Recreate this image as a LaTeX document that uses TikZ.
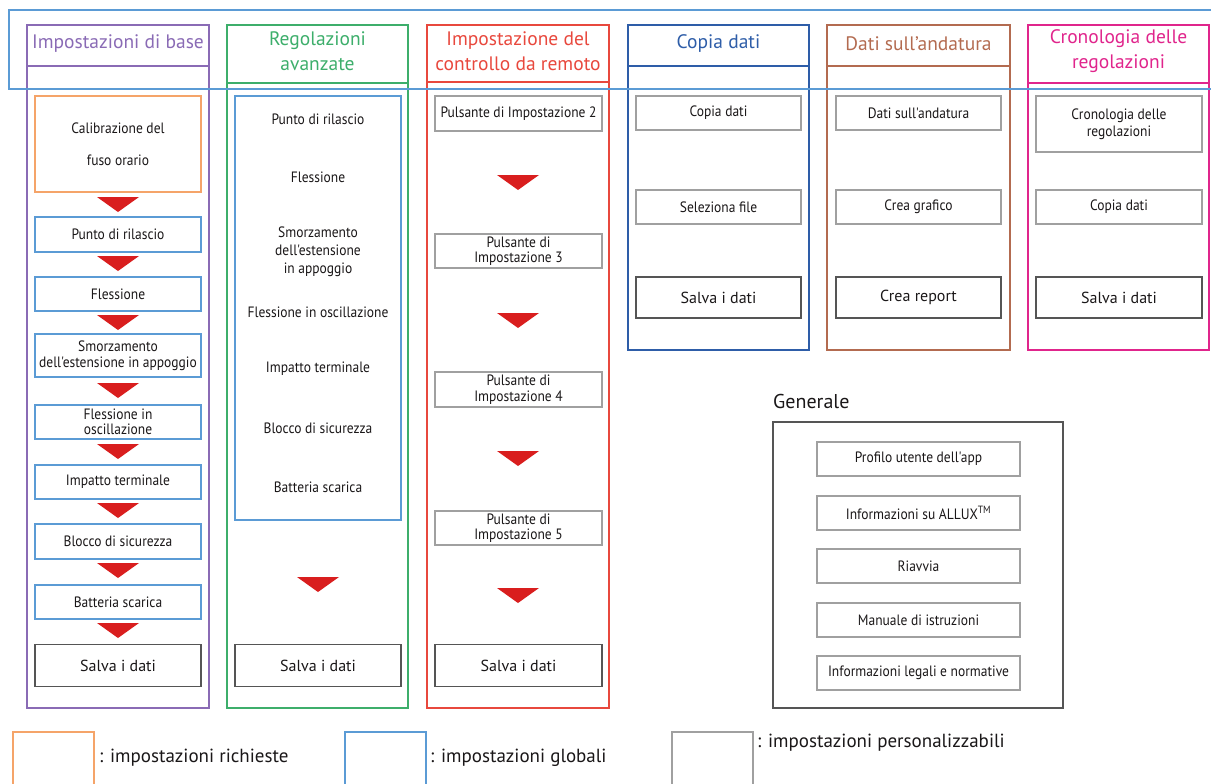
\documentclass[tikz,border=0pt]{standalone}
\usepackage{fontspec}
\setmainfont{PT Sans}
\newfontfamily\condf[FakeStretch=0.9]{PT Sans}
\definecolor{cpurple}{HTML}{8A6BB5}
\definecolor{cgreen}{HTML}{3DAE6B}
\definecolor{cred}{HTML}{E8483D}
\definecolor{cdblue}{HTML}{2E5DA8}
\definecolor{cbrown}{HTML}{B36B50}
\definecolor{cpink}{HTML}{E0258C}
\definecolor{corange}{HTML}{F5A469}
\definecolor{cblue}{HTML}{5B9BD5}
\definecolor{cgray}{HTML}{A0A0A0}
\definecolor{cdgray}{HTML}{555555}
\definecolor{arrowred}{HTML}{D91E1E}
\definecolor{ctext}{HTML}{1A1718}
\newcommand\redtri[2]{\fill[arrowred] (#1-21,#2) -- (#1+21,#2) -- (#1,#2+15) -- cycle;}
\begin{document}
\begin{tikzpicture}[x=1pt,y=-1pt,
  colframe/.style={line width=1.6pt},
  htext/.style={font=\fontsize{19.5}{24.5}\selectfont, align=center, inner sep=0},
  itext/.style={font=\condf\fontsize{15}{18}\selectfont, text=ctext, align=center, inner sep=0},
  bx/.style={inner sep=0, outer sep=0, align=center, text=ctext,
     font=\condf\fontsize{15}{15.5}\selectfont, minimum width=#1},
  bbox/.style={bx=166, draw=cblue, line width=1.4pt},
  gbox/.style={bx=#1, draw=cgray, line width=1.2pt},
  sbox/.style={bx=#1, draw=cdgray, line width=1.2pt, font=\fontsize{16}{18}\selectfont, minimum height=42},
  legtext/.style={font=\fontsize{19}{22}\selectfont, text=ctext, anchor=west, inner sep=0}
]
\useasboundingbox (0,0) rectangle (1211,784);

% ---------- column frames ----------
\draw[colframe, cpurple] (27,25) rectangle (209,708) (27,66) -- (209,66);
\draw[colframe, cgreen] (227,25) rectangle (408,708) (227,83) -- (408,83);
\draw[colframe, cred] (427,25) rectangle (609,708) (427,82) -- (609,82);
\draw[colframe, cdblue] (628,25) rectangle (809,350) (628,66) -- (809,66);
\draw[colframe, cbrown] (827,25) rectangle (1010,350) (827,66) -- (1010,66);
\draw[colframe, cpink] (1028,25) rectangle (1209,350) (1028,83) -- (1209,83);

% ---------- headers ----------
\node[htext, text=cpurple] (h1) at (118,44) {Impostazioni di base};
\node[htext, text=cgreen] (h2) at (317.5,51) {Regolazioni\\avanzate};
\node[htext, text=cred] (h3) at (518,51) {Impostazione del\\controllo da remoto};
\node[htext, text=cdblue] (h4) at (718.5,44) {Copia dati};
\node[htext, text=cbrown] (h5) at (918.5,44) {Dati sull'andatura};
\node[htext, text=cpink] (h6) at (1118.5,51) {Cronologia delle\\regolazioni};

% ---------- column 1 ----------
\node[bx=166, draw=corange, line width=1.2pt, minimum height=96] (c1a) at (118,144) {Calibrazione del\\[16.5pt]fuso orario};
\node[bbox, minimum height=35] (c1b) at (118,234.5) {Punto di rilascio};
\node[bbox, minimum height=34] (c1c) at (118,294) {Flessione};
\node[bbox, minimum height=43] (c1d) at (118,355.5) {Smorzamento\\dell'estensione in appoggio};
\node[bbox, minimum height=34] (c1e) at (118,422) {Flessione in\\oscillazione};
\node[bbox, minimum height=34] (c1f) at (118,482) {Impatto terminale};
\node[bbox, minimum height=35] (c1g) at (118,541.5) {Blocco di sicurezza};
\node[bbox, minimum height=34] (c1h) at (118,602) {Batteria scarica};
\node[sbox=166] (c1s) at (118,665.5) {Salva i dati};
\redtri{118}{197}
\redtri{118}{256}
\redtri{118}{315}
\redtri{118}{383}
\redtri{118}{444}
\redtri{118}{503}
\redtri{118}{563}
\redtri{118}{623}

% ---------- column 2 ----------
\node[bbox, minimum height=424] (c2box) at (318,308) {};
\node[itext] (c2a) at (318,119) {Punto di rilascio};
\node[itext] (c2b) at (318,177) {Flessione};
\node[itext] (c2c) at (318,252) {Smorzamento\\dell'estensione\\in appoggio};
\node[itext] (c2d) at (318,312) {Flessione in oscillazione};
\node[itext] (c2e) at (318,369) {Impatto terminale};
\node[itext] (c2f) at (318,428) {Blocco di sicurezza};
\node[itext] (c2g) at (318,487) {Batteria scarica};
\redtri{318}{577}
\node[sbox=166] (c2s) at (318,665.5) {Salva i dati};

% ---------- column 3 ----------
\node[gbox=167, minimum height=35] (c3a) at (518.5,113.5) {Pulsante di Impostazione 2};
\node[gbox=167, minimum height=34] (c3b) at (518.5,251) {Pulsante di\\Impostazione 3};
\node[gbox=167, minimum height=35] (c3c) at (518.5,389.5) {Pulsante di\\Impostazione 4};
\node[gbox=167, minimum height=34] (c3d) at (518.5,528) {Pulsante di\\Impostazione 5};
\node[sbox=167] (c3s) at (518.5,665.5) {Salva i dati};
\redtri{518}{175}
\redtri{518}{313}
\redtri{518}{451}
\redtri{518}{588}

% ---------- column 4 ----------
\node[gbox=165, minimum height=34] (c4a) at (718.5,113) {Copia dati};
\node[gbox=165, minimum height=34] (c4b) at (718.5,207) {Seleziona file};
\node[sbox=165, minimum height=41] (c4s) at (718.5,297.5) {Salva i dati};

% ---------- column 5 ----------
\node[gbox=165, minimum height=34] (c5a) at (918.5,113) {Dati sull'andatura};
\node[gbox=165, minimum height=34] (c5b) at (918.5,207) {Crea grafico};
\node[sbox=165, minimum height=41] (c5s) at (918.5,297.5) {Crea report};

% ---------- column 6 ----------
\node[gbox=166, minimum height=56, font=\condf\fontsize{15}{17}\selectfont] (c6a) at (1119,124) {Cronologia delle\\regolazioni};
\node[gbox=166, minimum height=34] (c6b) at (1119,207) {Copia dati};
\node[sbox=166, minimum height=41] (c6s) at (1119,297.5) {Salva i dati};

% ---------- Generale ----------
\node[font=\fontsize{20}{24}\selectfont, text=ctext, anchor=west, inner sep=0] (gen) at (773,401) {Generale};
\draw[cdgray, line width=1.4pt] (773,422) rectangle (1063,708);
\node[gbox=203, minimum height=34] (g1) at (918.5,459) {Profilo utente dell'app};
\node[gbox=203, minimum height=34] (g2) at (918.5,513) {Informazioni su ALLUX\textsuperscript{TM}};
\node[gbox=203, minimum height=34] (g3) at (918.5,566) {Riavvia};
\node[gbox=203, minimum height=34] (g4) at (918.5,620) {Manuale di istruzioni};
\node[gbox=203, minimum height=34] (g5) at (918.5,673) {Informazioni legali e normative};

% ---------- legend ----------
\draw[corange, line width=1.2pt] (13,795) -- (13,732) -- (94,732) -- (94,795);
\node[legtext] (l1) at (99,758) {: impostazioni richieste};
\draw[cblue, line width=1.2pt] (345,795) -- (345,732) -- (426,732) -- (426,795);
\node[legtext] (l2) at (430,758) {: impostazioni globali};
\draw[cgray, line width=1.2pt] (672,795) -- (672,732) -- (753,732) -- (753,795);
\node[legtext] (l3) at (757,743) {: impostazioni personalizzabili};

% ---------- outer blue frame (on top) ----------
\draw[cblue, line width=1.6pt] (9,10) rectangle (1216,89);
\end{tikzpicture}
\end{document}
